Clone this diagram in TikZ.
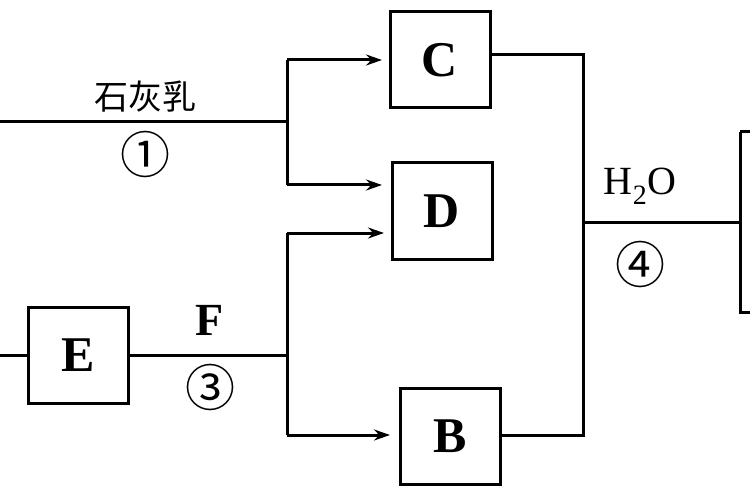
\documentclass[tikz,border=0pt]{standalone}
\usepackage{fontspec}
\setmainfont{Liberation Serif}
\newfontfamily\cjk{Noto Sans CJK SC}
\usetikzlibrary{arrows.meta}
\begin{document}
\begin{tikzpicture}[x=1pt,y=-1pt,line width=3pt,
  box/.style={draw,minimum width=100pt,minimum height=96pt,inner sep=0pt,font=\fontsize{50}{50}\selectfont\bfseries},
  lab/.style={font=\fontsize{40}{40}\selectfont},
  num/.style={font=\cjk\fontsize{50}{50}\selectfont},
  arr/.style={-{Stealth[length=16pt,width=11pt]}}]
\useasboundingbox (0,0) rectangle (750,500);
\node[box] (C) at (440,60) {C};
\node[box] (D) at (442,211) {D};
\node[box] (E) at (78,355) {E};
\node[box] (B) at (450,436) {B};
\draw (740,132) -- (760,132) (740,132) -- (740,312) -- (760,312);
\coordinate (R) at (740,222);
\coordinate (L1) at (0,122);
\coordinate (L2) at (0,355);
\coordinate (J1) at (287,122);
\coordinate (J2) at (287,355);
\coordinate (J3) at (583,222);
\draw (L1) -- (J1);
\draw (287,60) -- (287,185);
\draw[arr] (287,60) -- (382,60);
\draw[arr] (287,185) -- (382,185);
\draw (L2) -- (E.west);
\draw (E.east) -- (J2);
\draw (287,233) -- (287,435);
\draw[arr] (287,233) -- (384,233);
\draw[arr] (287,435) -- (390,435);
\draw (C.east |- 0,55) -- (583,55) -- (583,435) -- (B.east |- 0,435);
\draw (J3) -- (R);
\node[font=\cjk\fontsize{34}{34}\selectfont] (t1) at (145,97) {石灰乳};
\node[num] (n1) at (145,155) {①};
\node[font=\fontsize{46}{46}\selectfont\bfseries] (f) at (210,320) {F};
\node[num] (n3) at (210,387) {③};
\node[lab] (w) at (640,186) {H\textsubscript{2}O};
\node[num] (n4) at (640,264) {④};
\end{tikzpicture}
\end{document}
